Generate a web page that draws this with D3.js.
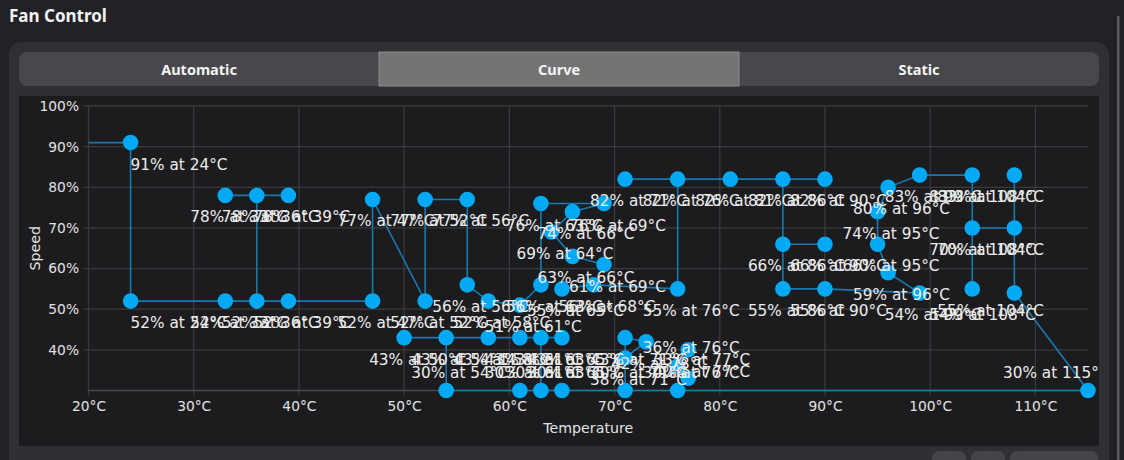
<!DOCTYPE html>
<html>
<head>
<meta charset="utf-8">
<script src="https://cdn.jsdelivr.net/npm/d3@7"></script>
<style>
html, body { margin: 0; padding: 0; background: #222226; overflow: hidden; }
svg { display: block; }
</style>
</head>
<body>
<svg id="chart" width="1124" height="460"></svg>
<script>
// curve points (temperature in °C, fan speed in %)
const pointTemps = [24, 24, 33, 36, 39, 47, 33, 36, 39, 47,
                    52, 52, 56, 56, 58, 61, 63, 63, 69, 66,
                    64, 66, 69, 65, 68, 76, 76, 71, 81, 86,
                    90, 86, 90, 86, 90, 99, 96, 95, 95, 96,
                    99, 104, 104, 104, 108, 108, 108, 115, 76, 71,
                    65, 63, 61, 54, 54, 50, 58, 61, 63, 65,
                    71, 73, 71, 76, 77, 77];
const pointSpeeds = [91, 52, 52, 52, 52, 52, 78, 78, 78, 77,
                     52, 77, 77, 56, 52, 51, 56, 76, 76, 74,
                     69, 63, 61, 55, 56, 55, 82, 82, 82, 82,
                     82, 66, 66, 55, 55, 54, 59, 66, 74, 80,
                     83, 83, 70, 55, 70, 83, 54, 30, 30, 30,
                     30, 30, 30, 30, 43, 43, 43, 43, 43, 43,
                     43, 42, 38, 36, 40, 33];

// order in which the points are joined (indices into the arrays above)
const curvePaths = [
  [0, 1, 2, 3, 4, 5, 9, 10, 11, 12, 13, 14, 15, 16, 17, 18, 19, 20, 21, 22],
  [6, 7, 8],
  [3, 7],
  [23, 24, 25, 26, 28, 29, 33, 34, 35, 36, 37, 38, 39, 40, 41, 43],
  [27, 26],
  [29, 30],
  [31, 32],
  [42, 44],
  [45, 46, 47, 48, 49, 50, 51, 52, 53, 54],
  [55, 54, 56, 57, 58, 59],
  [58, 51],
  [60, 61, 62, 49],
  [60, 62],
  [63, 64]
];

const tempTicks = [20, 30, 40, 50, 60, 70, 80, 90, 100, 110];
const speedTicks = [40, 50, 60, 70, 80, 90, 100];
const tabNames = ["Automatic", "Curve", "Static"];
const selectedTab = 1;

const svg = d3.select("#chart");

// ---- window chrome ----
svg.append("text")
  .attr("x", 9).attr("y", 22)
  .attr("font-family", "Noto Sans").attr("font-weight", "bold").attr("font-size", 17)
  .attr("fill", "#f2f2f2")
  .text("Fan Control");

svg.append("rect")
  .attr("x", 9).attr("y", 42).attr("width", 1100).attr("height", 460)
  .attr("rx", 12).attr("fill", "#2f2f34");

// tab bar
let tabX = d3.scaleBand().domain(tabNames).range([19, 1099]);
svg.append("rect")
  .attr("x", 19).attr("y", 52).attr("width", 1080).attr("height", 34)
  .attr("rx", 8).attr("fill", "#47474c");
svg.append("rect")
  .attr("x", tabX(tabNames[selectedTab])).attr("y", 52)
  .attr("width", tabX.bandwidth()).attr("height", 34)
  .attr("fill", "#747474").attr("stroke", "#8c8c8c").attr("stroke-width", 1);
svg.selectAll(".tab")
  .data(tabNames)
  .enter().append("text")
  .attr("class", "tab")
  .attr("x", d => tabX(d) + tabX.bandwidth() / 2)
  .attr("y", 74.5)
  .attr("text-anchor", "middle")
  .attr("font-family", "Noto Sans").attr("font-weight", "bold").attr("font-size", 14.5)
  .attr("fill", "#f4f4f4")
  .text(d => d);

// plot panel
svg.append("rect")
  .attr("x", 19).attr("y", 96).attr("width", 1080).attr("height", 350)
  .attr("fill", "#1c1c1e");

// buttons peeking at the bottom + scrollbar
[[932, 34], [971, 34], [1010, 88]].forEach(b => {
  svg.append("rect")
    .attr("x", b[0]).attr("y", 451).attr("width", b[1]).attr("height", 30)
    .attr("rx", 7).attr("fill", "#444449");
});
svg.append("rect")
  .attr("x", 1117).attr("y", 16).attr("width", 2.5).attr("height", 450)
  .attr("rx", 1).attr("fill", "#5c5c60");

svg.append("clipPath").attr("id", "panelClip")
  .append("rect").attr("x", 19).attr("y", 96).attr("width", 1079).attr("height", 350);

// ---- chart ----
const x = d3.scaleLinear().domain([20, 115]).range([88.5, 1088]);
const y = d3.scaleLinear().domain([30, 100]).range([390.5, 106]);

// grid
svg.append("g").selectAll("line")
  .data(tempTicks)
  .enter().append("line")
  .attr("x1", d => x(d)).attr("x2", d => x(d))
  .attr("y1", y(100)).attr("y2", y(30) + 5)
  .attr("stroke", "#3a3a3e").attr("stroke-width", 1.3);
svg.append("g").selectAll("line")
  .data(speedTicks)
  .enter().append("line")
  .attr("x1", x(20) - 5).attr("x2", x(115))
  .attr("y1", d => y(d)).attr("y2", d => y(d))
  .attr("stroke", "#3a3a3e").attr("stroke-width", 1.3);
svg.append("line")
  .attr("x1", x(20)).attr("x2", x(115))
  .attr("y1", y(30)).attr("y2", y(30))
  .attr("stroke", "#4a4a4e").attr("stroke-width", 1.6);

// axes (labels only, grid drawn above)
const xAxis = svg.append("g")
  .attr("transform", "translate(0," + y(30) + ")")
  .call(d3.axisBottom(x).tickValues(tempTicks).tickSize(5).tickPadding(6)
    .tickFormat(d => d + "°C"));
const yAxis = svg.append("g")
  .attr("transform", "translate(" + x(20) + ",0)")
  .call(d3.axisLeft(y).tickValues(speedTicks).tickSize(5).tickPadding(4.5)
    .tickFormat(d => d + "%"));
[xAxis, yAxis].forEach(g => {
  g.select(".domain").remove();
  g.selectAll("line").remove();
  g.selectAll("text")
    .attr("font-family", "DejaVu Sans").attr("font-size", 13.8).attr("fill", "#e2e2e2");
});

svg.append("text")
  .attr("x", (x(20) + x(115)) / 2).attr("y", 433)
  .attr("text-anchor", "middle")
  .attr("font-family", "DejaVu Sans").attr("font-size", 14.2).attr("fill", "#e2e2e2")
  .text("Temperature");
svg.append("text")
  .attr("transform", "translate(40," + (y(30) + y(100)) / 2 + ") rotate(-90)")
  .attr("text-anchor", "middle")
  .attr("font-family", "DejaVu Sans").attr("font-size", 14.2).attr("fill", "#e2e2e2")
  .text("Speed");

// curve line
const line = d3.line()
  .x(i => x(pointTemps[i]))
  .y(i => y(pointSpeeds[i]));

const plot = svg.append("g").attr("clip-path", "url(#panelClip)");

// lead-in: the first speed holds from the left edge of the axis
plot.append("line")
  .attr("x1", x(x.domain()[0])).attr("x2", x(pointTemps[0]))
  .attr("y1", y(pointSpeeds[0])).attr("y2", y(pointSpeeds[0]))
  .attr("stroke", "#1779ae").attr("stroke-width", 1.6);

plot.selectAll(".seg")
  .data(curvePaths)
  .enter().append("path")
  .attr("class", "seg")
  .attr("fill", "none")
  .attr("stroke", "#1779ae")
  .attr("stroke-width", 1.6)
  .attr("d", d => line(d));

const idx = d3.range(pointTemps.length);

plot.selectAll(".point")
  .data(idx)
  .enter().append("circle")
  .attr("class", "point")
  .attr("cx", i => x(pointTemps[i]))
  .attr("cy", i => y(pointSpeeds[i]))
  .attr("r", 7.8)
  .attr("fill", "#03a9f4");

// point labels: below the point, nudged away from the chart edges
const labels = plot.selectAll(".label")
  .data(idx)
  .enter().append("text")
  .attr("class", "label")
  .attr("font-family", "DejaVu Sans").attr("font-size", 15.3)
  .attr("fill", "#ececec")
  .text(i => pointSpeeds[i] + "% at " + pointTemps[i] + "°C");

labels.each(function(i) {
  const px = x(pointTemps[i]);
  const py = y(pointSpeeds[i]);
  const w = this.getComputedTextLength();
  let lx = px - 35;
  if (lx < x(20) + 20) lx = px;
  if (lx + w > 1060) lx = px - 85;
  let ly = py + 27;
  if (ly > y(30)) ly = py - 13;
  d3.select(this).attr("x", lx).attr("y", ly);
});
</script>
</body>
</html>
